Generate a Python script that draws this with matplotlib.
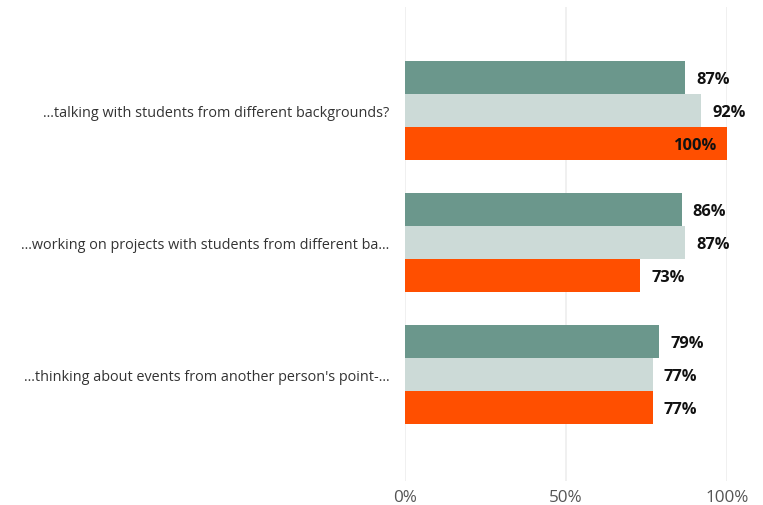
import numpy as np
import matplotlib.pyplot as plt

plt.rcParams['font.family'] = ['Open Sans', 'DejaVu Sans']

categories = [
    "...talking with students from different backgrounds?",
    "...working on projects with students from different ba...",
    "...thinking about events from another person's point-...",
]
series_a = [87, 86, 79]
series_b = [92, 87, 77]
series_c = [100, 73, 77]
colors = ["#6B978C", "#CCDAD7", "#FF4F00"]

fig = plt.figure(figsize=(7.63, 5.06), dpi=100)
ax = fig.add_axes([405 / 763, 1 - 482 / 506, 322 / 763, 474 / 506])

y = np.arange(len(categories))
h = 0.25
for i, (vals, c) in enumerate(zip([series_a, series_b, series_c], colors)):
    pos = y + (i - 1) * h
    ax.barh(pos, vals, height=h, color=c, zorder=2)
    for p, v in zip(pos, vals):
        if v >= 95:
            ax.text(v - 3, p + 0.01, f"{v}%", ha='right', va='center',
                    fontsize=11.8, fontweight='bold', color='#111111')
        else:
            ax.text(v + 3.4, p + 0.01, f"{v}%", ha='left', va='center',
                    fontsize=11.8, fontweight='bold', color='#111111')

ax.set_xlim(0, 100)
ax.set_ylim(2 + 0.807, -0.784)
ax.set_xticks([0, 50, 100])
ax.set_xticklabels(["0%", "50%", "100%"])
ax.set_yticks(y)
ax.set_yticklabels(categories)
ax.tick_params(axis='y', length=0, pad=11, labelsize=10.4, labelcolor='#333333')
ax.tick_params(axis='x', length=0, pad=6, labelsize=12.3, labelcolor='#555555')
ax.grid(axis='x', color='#EEEEEE', linewidth=1.2, zorder=0)
for s in ax.spines.values():
    s.set_visible(False)

fig.savefig("out.png", dpi=100)
